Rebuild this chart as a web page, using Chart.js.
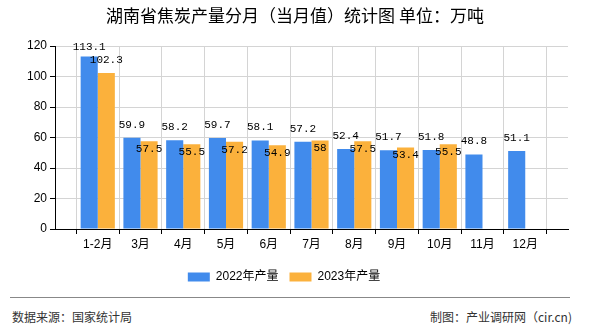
<!DOCTYPE html>
<html lang="zh">
<head>
  <meta charset="UTF-8">
  <title>湖南省焦炭产量分月（当月值）统计图</title>
  <style>
    body {
      margin: 0;
      background: #fff;
      font-family: 'Liberation Sans', 'Noto Sans CJK SC', sans-serif;
    }
    .wrap {
      position: relative;
      width: 590px;
      height: 330px;
      overflow: hidden;
    }
    #chart {
      position: absolute;
      left: 0;
      top: 0;
    }
    .title {
      position: absolute;
      left: 0;
      top: 5px;
      width: 590px;
      text-align: center;
      font-family: 'Noto Sans CJK SC', sans-serif;
      font-size: 17px;
      line-height: 20px;
      color: #000;
    }
    .rule {
      position: absolute;
      left: 10px;
      top: 297px;
      width: 560px;
      height: 0;
      border-top: 1px solid #888;
    }
    .foot {
      position: absolute;
      top: 308px;
      font-size: 12px;
      line-height: 18px;
      color: #333;
      font-family: 'Noto Sans CJK SC', sans-serif;
    }
    .foot.left { left: 12px; }
    .foot.right { right: 18px; }
  </style>
  <script src="https://cdn.jsdelivr.net/npm/chart.js"></script>
</head>
<body>
  <div class="wrap">
    <canvas id="chart" width="590" height="300"></canvas>
    <div class="title">湖南省焦炭产量分月（当月值）统计图 单位：万吨</div>
    <div class="rule"></div>
    <div class="foot left">数据来源：国家统计局</div>
    <div class="foot right">制图：产业调研网（cir.cn)</div>
  </div>

  <script>
    const months = ['1-2月', '3月', '4月', '5月', '6月', '7月', '8月', '9月', '10月', '11月', '12月'];
    const output2022 = [113.1, 59.9, 58.2, 59.7, 58.1, 57.2, 52.4, 51.7, 51.8, 48.8, 51.1];
    const output2023 = [102.3, 57.5, 55.5, 57.2, 54.9, 58, 57.5, 53.4, 55.5, null, null];
    const yTicks = [0, 20, 40, 60, 80, 100, 120];

    // the axis has an empty slot on each side of the months
    const pad = arr => [null, ...arr, null];
    const labels = ['', ...months, ''];

    // value labels: 2022 above its bar, 2023 drops inside the bar when it would collide
    const valueLabels = {
      id: 'valueLabels',
      afterDatasetsDraw(chart) {
        const ctx = chart.ctx;
        const top = chart.chartArea.top;
        const a = chart.getDatasetMeta(0).data;
        const b = chart.getDatasetMeta(1).data;
        const va = chart.data.datasets[0].data;
        const vb = chart.data.datasets[1].data;
        ctx.save();
        ctx.font = '11px "Liberation Mono", monospace';
        ctx.fillStyle = '#000';
        ctx.textAlign = 'center';
        ctx.textBaseline = 'middle';
        for (let i = 0; i < labels.length; i++) {
          let ya = null;
          if (va[i] != null) {
            ya = Math.max(a[i].y - 13, top + 1);
            ctx.fillText(String(va[i]), a[i].x, ya);
          }
          if (vb[i] != null) {
            let yb = b[i].y - 13;
            if (ya != null && Math.abs(yb - ya) < 12) yb = b[i].y + 8;
            ctx.fillText(String(vb[i]), b[i].x, yb);
          }
        }
        ctx.restore();
      }
    };

    const ctx = document.getElementById('chart').getContext('2d');
    new Chart(ctx, {
      type: 'bar',
      data: {
        labels: labels,
        datasets: [{
          label: '2022年产量',
          data: pad(output2022),
          backgroundColor: '#418BEC',
          categoryPercentage: 0.8,
          barPercentage: 1.0
        }, {
          label: '2023年产量',
          data: pad(output2023),
          backgroundColor: '#FBB13C',
          categoryPercentage: 0.8,
          barPercentage: 1.0
        }]
      },
      options: {
        responsive: false,
        animation: false,
        layout: {
          padding: { left: 0, right: 22, top: 46, bottom: 7 }
        },
        scales: {
          x: {
            offset: false,
            grid: {
              color: '#d4d4d4',
              tickColor: '#000',
              tickLength: 5
            },
            border: { color: '#000' },
            ticks: {
              color: '#000',
              padding: 3,
              maxRotation: 0,
              autoSkip: false,
              font: { family: "'Liberation Sans', 'Noto Sans CJK SC'", size: 12 }
            },
            afterFit: s => { s.height = 31; }
          },
          y: {
            min: 0,
            max: 120,
            afterBuildTicks: s => { s.ticks = yTicks.map(v => ({ value: v })); },
            grid: {
              color: '#d4d4d4',
              tickColor: '#000',
              tickLength: 5
            },
            border: { color: '#000' },
            ticks: {
              color: '#000',
              padding: 3,
              font: { family: "'Liberation Sans'", size: 12 }
            },
            afterFit: s => { s.width = 55; }
          }
        },
        plugins: {
          title: { display: false },
          legend: {
            position: 'bottom',
            labels: {
              boxWidth: 22,
              boxHeight: 9,
              padding: 11,
              color: '#000',
              font: { family: "'Liberation Sans', 'Noto Sans CJK SC'", size: 12 }
            }
          },
          tooltip: { enabled: false }
        }
      },
      plugins: [valueLabels]
    });
  </script>
</body>
</html>
